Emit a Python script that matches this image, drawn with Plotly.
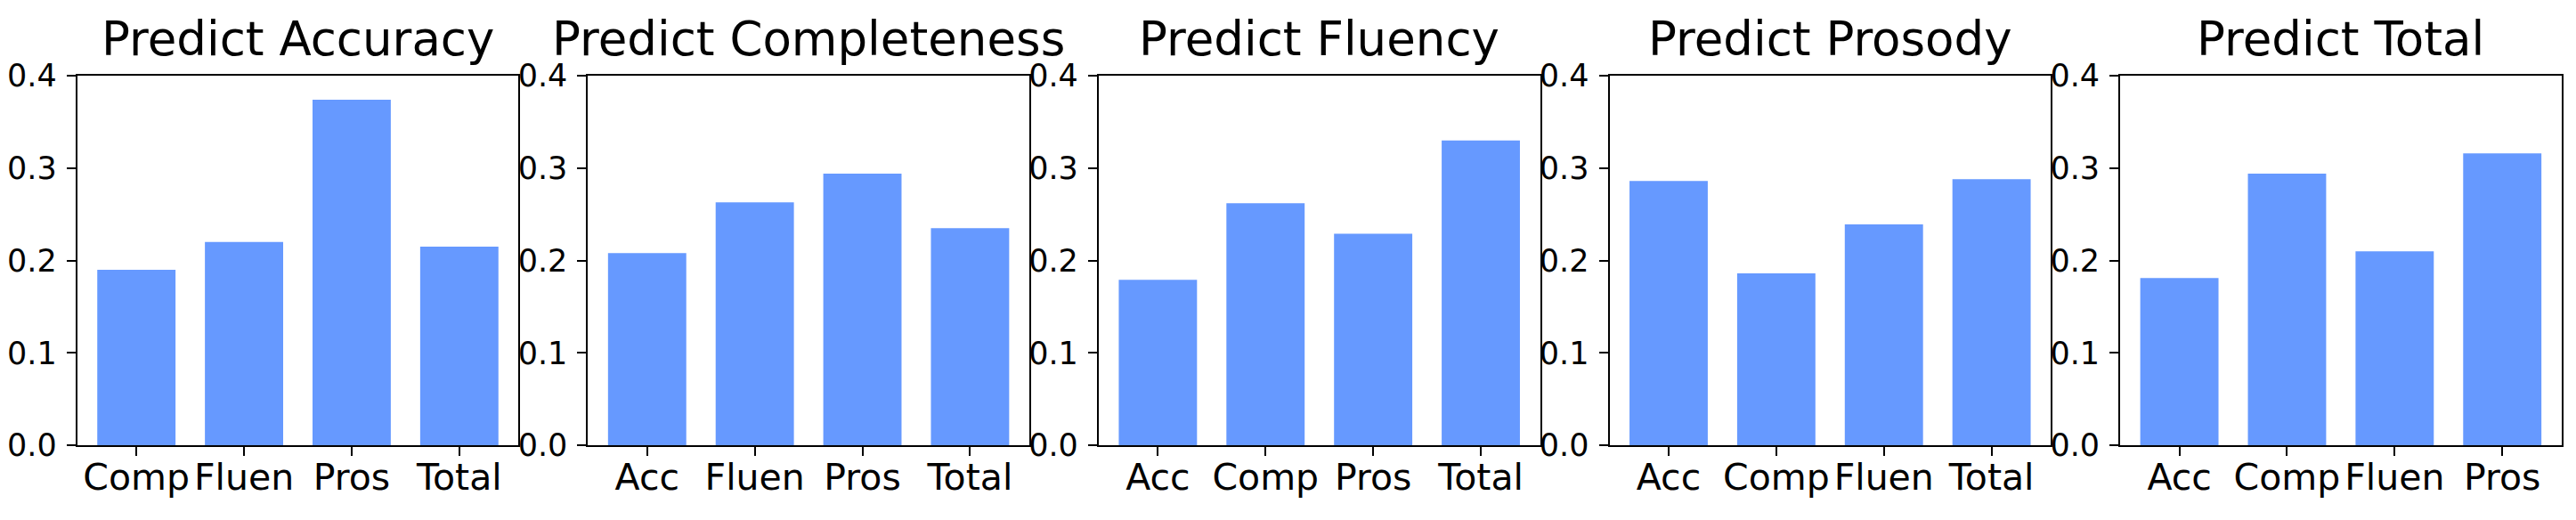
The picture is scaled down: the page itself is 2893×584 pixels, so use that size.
import plotly.graph_objects as go

titles = ["Predict Accuracy", "Predict Completeness", "Predict Fluency", "Predict Prosody", "Predict Total"]

acc_labels = ["Comp", "Fluen", "Pros", "Total"]
acc_values = [0.190, 0.220, 0.374, 0.215]

comp_labels = ["Acc", "Fluen", "Pros", "Total"]
comp_values = [0.208, 0.263, 0.294, 0.235]

flu_labels = ["Acc", "Comp", "Pros", "Total"]
flu_values = [0.179, 0.262, 0.229, 0.330]

pros_labels = ["Acc", "Comp", "Fluen", "Total"]
pros_values = [0.286, 0.186, 0.239, 0.288]

tot_labels = ["Acc", "Comp", "Fluen", "Pros"]
tot_values = [0.181, 0.294, 0.210, 0.316]

y_ticks = [0.0, 0.1, 0.2, 0.3, 0.4]

panels = [
    (acc_labels, acc_values),
    (comp_labels, comp_values),
    (flu_labels, flu_values),
    (pros_labels, pros_values),
    (tot_labels, tot_values),
]

W, H = 2893, 584
BAR_COLOR = "#6699FF"
FONT = "DejaVu Sans"

fig = go.Figure()
layout = dict(
    width=W, height=H,
    margin=dict(l=0, r=0, t=0, b=0, autoexpand=False),
    paper_bgcolor="white", plot_bgcolor="white",
    showlegend=False,
    font=dict(family=FONT, color="black"),
    annotations=[],
)

left0, pw, step = 86.7, 495.6, 573.6
y_bot, y_top = 500.0, 85.0
dom_y = [(H - y_bot) / H, (H - y_top) / H]

for i, ((labels, values), title) in enumerate(zip(panels, titles)):
    n = "" if i == 0 else str(i + 1)
    xa, ya = "x" + n, "y" + n
    fig.add_trace(go.Bar(
        x=list(range(len(labels))), y=values,
        width=0.727,
        marker=dict(color=BAR_COLOR, line=dict(width=0)),
        xaxis=xa, yaxis=ya,
    ))
    l = left0 + step * i
    r = l + pw
    layout["xaxis" + n] = dict(
        domain=[l / W, r / W], anchor=ya,
        range=[-0.55, len(labels) - 1 + 0.55],
        tickmode="array", tickvals=list(range(len(labels))), ticktext=labels,
        showgrid=False, zeroline=False, automargin=False,
        showline=True, linecolor="black", linewidth=2, mirror=True,
        ticks="outside", ticklen=10, tickwidth=2, tickcolor="black",
        tickfont=dict(family=FONT, size=41, color="black"),
        ticklabelstandoff=-11,
        fixedrange=True,
    )
    layout["yaxis" + n] = dict(
        domain=dom_y, anchor=xa,
        range=[0, 0.4],
        tickmode="array", tickvals=y_ticks, ticktext=[f"{v:.1f}" for v in y_ticks],
        showgrid=False, zeroline=False, automargin=False,
        showline=True, linecolor="black", linewidth=2, mirror=True,
        ticks="outside", ticklen=10, tickwidth=2, tickcolor="black",
        tickfont=dict(family=FONT, size=35, color="black"),
        ticklabelstandoff=4,
        fixedrange=True,
    )
    layout["annotations"].append(dict(
        text=title, xref="paper", yref="paper",
        x=(l + r) / 2 / W, y=(H - 44) / H,
        xanchor="center", yanchor="middle", showarrow=False,
        font=dict(family=FONT, size=53, color="black"),
    ))

fig.update_layout(**layout)
fig.write_html(
    "out.html",
    config={"displayModeBar": False},
    post_script="document.body.style.margin='0';document.body.style.overflow='hidden';",
)
